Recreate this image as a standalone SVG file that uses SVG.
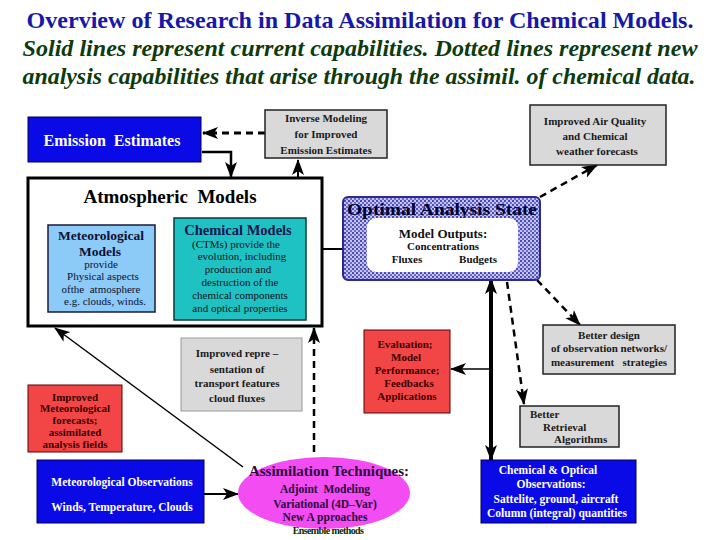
<svg xmlns="http://www.w3.org/2000/svg" width="720" height="540" viewBox="0 0 720 540">
<style>
text{font-family:"Liberation Serif","Times New Roman","DejaVu Serif",serif;font-weight:bold;text-anchor:middle}
text.s{text-anchor:start}
text.n{font-weight:normal}
.t1{font-size:24px;fill:#1818a8}
.t2{font-size:24px;fill:#0d3b0d;font-style:italic}
.wt{fill:#ffffff;font-size:11.5px}
.gt{fill:#1a1a1a;font-size:11px}
.rt{fill:#3a0000;font-size:11px}
.gray{fill:#d9d9d9;stroke:#222;stroke-width:1.5}
.blue{fill:#0a0ae6;stroke:#000050;stroke-width:1}
.red{fill:#f24646;stroke:#5a0000;stroke-width:1}
.ln{fill:none;stroke:#000}
.dash{stroke-dasharray:7,5}
</style>
<defs>
<marker id="ah" markerUnits="userSpaceOnUse" markerWidth="16" markerHeight="12" refX="15" refY="6" orient="auto">
<path d="M0,0 L16,6 L0,12 L4,6 Z" fill="#000"/>
</marker>
<pattern id="hatch" width="4" height="4" patternUnits="userSpaceOnUse">
<rect width="4" height="4" fill="#c4c4ee"/>
<rect width="2" height="2" fill="#4a4ac0"/>
<rect x="2" y="2" width="2" height="2" fill="#6a6ad0"/>
</pattern>
</defs>
<rect width="720" height="540" fill="#ffffff"/>

<g id="title">
<text class="t1" x="360" y="28" textLength="667" lengthAdjust="spacingAndGlyphs">Overview of Research in Data Assimilation for Chemical Models.</text>
<text class="t2" x="360" y="56" textLength="675" lengthAdjust="spacingAndGlyphs">Solid lines represent current capabilities. Dotted lines represent new</text>
<text class="t2" x="359" y="84" textLength="673" lengthAdjust="spacingAndGlyphs">analysis capabilities that arise through the assimil. of chemical data.</text>
</g>

<g id="connectors">
<line class="ln dash" x1="265" y1="133" x2="203" y2="133" stroke-width="3" marker-end="url(#ah)"/>
<polyline class="ln" points="202,152 231,152 231,177" stroke-width="2.5" marker-end="url(#ah)"/>
<line class="ln dash" x1="298" y1="178" x2="298" y2="160" stroke-width="2" stroke-dasharray="4,3" marker-end="url(#ah)"/>
<line class="ln" x1="322" y1="249" x2="367" y2="249" stroke-width="2" marker-end="url(#ah)"/>
<line class="ln dash" x1="540" y1="197" x2="597" y2="165" stroke-width="2.5" marker-end="url(#ah)"/>
<line class="ln dash" x1="537" y1="280" x2="580" y2="325" stroke-width="2.5" marker-end="url(#ah)"/>
<line class="ln" x1="491" y1="372" x2="491" y2="279" stroke-width="4" marker-end="url(#ah)"/>
<line class="ln" x1="491" y1="366" x2="491" y2="460" stroke-width="4" marker-end="url(#ah)"/>
<line class="ln dash" x1="507" y1="282" x2="524" y2="404" stroke-width="2.5" marker-end="url(#ah)"/>
<line class="ln" x1="491" y1="369" x2="451" y2="369" stroke-width="1.5" marker-end="url(#ah)"/>
<line class="ln" x1="204" y1="494" x2="238" y2="494" stroke-width="2" marker-end="url(#ah)"/>
<line class="ln" x1="243" y1="467" x2="55" y2="328" stroke-width="1.5" marker-end="url(#ah)"/>
<line class="ln dash" x1="314" y1="452" x2="314" y2="328" stroke-width="2.5" marker-end="url(#ah)"/>
</g>

<g id="emission">
<rect class="blue" x="28" y="117" width="173" height="45"/>
<text x="112" y="146" fill="#fff" font-size="16" xml:space="preserve">Emission  Estimates</text>
</g>

<g id="inverse">
<rect class="gray" x="265" y="110" width="122" height="48"/>
<text class="gt" x="326" y="122">Inverse Modeling</text>
<text class="gt" x="326" y="138">for Improved</text>
<text class="gt" x="326" y="154">Emission Estimates</text>
</g>

<g id="airquality">
<rect class="gray" x="530" y="105" width="136" height="60"/>
<text class="gt" x="595" y="125">Improved Air Quality</text>
<text class="gt" x="595" y="140">and Chemical</text>
<text class="gt" x="597" y="155">weather forecasts</text>
</g>

<g id="atmospheric">
<rect x="28" y="178" width="294" height="148" fill="#fff" stroke="#000" stroke-width="3"/>
<text x="170" y="203" font-size="19" fill="#000" xml:space="preserve">Atmospheric  Models</text>
</g>

<g id="metmodels">
<rect x="48" y="225" width="107" height="87" fill="#8ccaf8" stroke="#1a1a3a" stroke-width="1.5"/>
<text x="101" y="240" font-size="13.5" fill="#101030">Meteorological</text>
<text x="100" y="256" font-size="13.5" fill="#101030">Models</text>
<text class="n" x="101" y="268" font-size="11" fill="#101030">provide</text>
<text class="n" x="103" y="280" font-size="11" fill="#101030">Physical aspects</text>
<text class="n" x="101" y="293" font-size="11" fill="#101030" xml:space="preserve">ofthe  atmosphere</text>
<text class="n" x="105" y="305" font-size="11" fill="#101030">e.g. clouds, winds.</text>
</g>

<g id="chemmodels">
<rect x="174" y="218" width="132" height="102" fill="#1fc2c2" stroke="#0a3a3a" stroke-width="1.5"/>
<text x="238" y="235" font-size="14.5" fill="#151550">Chemical Models</text>
<text class="n" x="236" y="248" font-size="11" fill="#101020">(CTMs) provide the</text>
<text class="n" x="242" y="260" font-size="11" fill="#101020">evolution, including</text>
<text class="n" x="238" y="273" font-size="11" fill="#101020">production and</text>
<text class="n" x="240" y="286" font-size="11" fill="#101020">destruction of the</text>
<text class="n" x="240" y="299" font-size="11" fill="#101020">chemical components</text>
<text class="n" x="240" y="312" font-size="11" fill="#101020">and optical properties</text>
</g>

<g id="optimal">
<rect x="343" y="197" width="197" height="83" rx="5" fill="url(#hatch)" stroke="#2a2a90" stroke-width="2"/>
<text x="442" y="215" font-size="17" fill="#000028" textLength="190" lengthAdjust="spacingAndGlyphs">Optimal Analysis State</text>
<rect x="367" y="218" width="151" height="54" rx="9" fill="#fff"/>
<text x="443" y="238" font-size="13" fill="#111">Model Outputs:</text>
<text x="443" y="250" font-size="11" fill="#111">Concentrations</text>
<text x="407" y="263" font-size="11" fill="#111">Fluxes</text>
<text x="478" y="263" font-size="11" fill="#111">Budgets</text>
</g>

<g id="betterdesign">
<rect class="gray" x="543" y="325" width="132" height="49"/>
<text class="gt" x="609" y="339">Better design</text>
<text class="gt" x="609" y="352">of observation networks/</text>
<text class="gt" x="609" y="366" xml:space="preserve">measurement   strategies</text>
</g>

<g id="evaluation">
<rect class="red" x="364" y="330" width="86" height="83"/>
<text class="rt" x="405" y="348">Evaluation;</text>
<text class="rt" x="406" y="361">Model</text>
<text class="rt" x="407" y="374">Performance;</text>
<text class="rt" x="409" y="387">Feedbacks</text>
<text class="rt" x="407" y="400">Applications</text>
</g>

<g id="retrieval">
<rect class="gray" x="520" y="406" width="99" height="41"/>
<text class="gt s" x="530" y="418">Better</text>
<text class="gt s" x="543" y="431">Retrieval</text>
<text class="gt s" x="554" y="443">Algorithms</text>
</g>

<g id="representation">
<rect x="181" y="338" width="121" height="73" fill="#d9d9d9" stroke="#999" stroke-width="1"/>
<text class="gt" x="237" y="357">Improved repre –</text>
<text class="gt" x="237" y="373">sentation of</text>
<text class="gt" x="237" y="387">transport features</text>
<text class="gt" x="237" y="402">cloud fluxes</text>
</g>

<g id="metforecasts">
<rect class="red" x="28" y="385" width="94" height="67"/>
<text class="rt" x="75" y="401">Improved</text>
<text class="rt" x="75" y="412">Meteorological</text>
<text class="rt" x="75" y="424">forecasts;</text>
<text class="rt" x="75" y="436">assimilated</text>
<text class="rt" x="75" y="448">analysis fields</text>
</g>

<g id="metobs">
<rect class="blue" x="37" y="460" width="167" height="63"/>
<text class="wt" x="122" y="486">Meteorological Observations</text>
<text class="wt" x="122" y="511">Winds, Temperature, Clouds</text>
</g>

<g id="assimilation">
<ellipse cx="324" cy="493" rx="86" ry="36" fill="#f24cf2"/>
<text x="329" y="476" font-size="14" fill="#2a0a3a" textLength="160" lengthAdjust="spacingAndGlyphs">Assimilation Techniques:</text>
<text x="325" y="493" font-size="11.5" fill="#2a0a3a" xml:space="preserve">Adjoint  Modeling</text>
<text x="325" y="508" font-size="11.5" fill="#2a0a3a">Variational (4D–Var)</text>
<text x="325" y="521" font-size="11.5" fill="#2a0a3a">New A pproaches</text>
<text x="328" y="534" font-size="10" fill="#003000" letter-spacing="-0.6">Ensemble methods</text>
</g>

<g id="chemobs">
<rect class="blue" x="481" y="460" width="155" height="63"/>
<text class="wt" x="548" y="474">Chemical &amp; Optical</text>
<text class="wt" x="551" y="488">Observations:</text>
<text class="wt" x="556" y="503" font-size="11">Sattelite, ground, aircraft</text>
<text class="wt" x="557" y="517" font-size="11">Column (integral) quantities</text>
</g>
</svg>
